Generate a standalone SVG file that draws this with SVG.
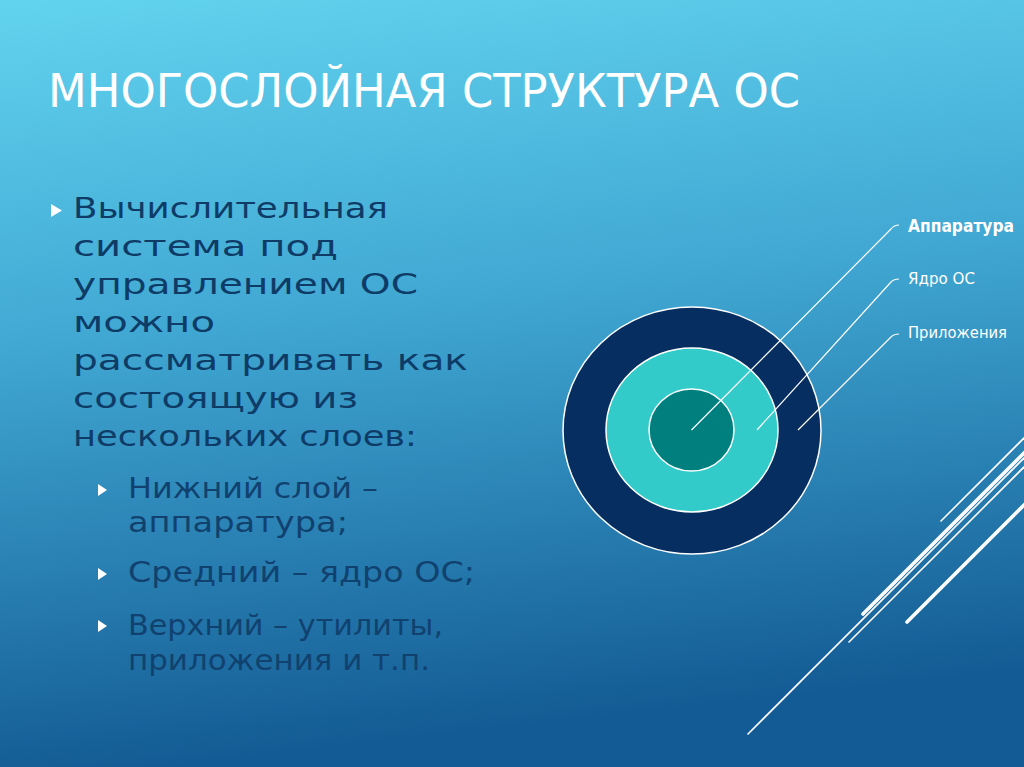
<svg xmlns="http://www.w3.org/2000/svg" width="1024" height="767" viewBox="0 0 1024 767">
  <defs>
    <linearGradient id="bg" x1="0" y1="0" x2="0.15" y2="1">
      <stop offset="0" stop-color="#62D3EF"/>
      <stop offset="0.45" stop-color="#40A7D2"/>
      <stop offset="1" stop-color="#135B94"/>
    </linearGradient>
  </defs>
  <style>
    .title { font-family: "DejaVu Sans", "Liberation Sans", sans-serif; font-size: 46px; fill: #FFFFFF; }
    .body { font-family: "DejaVu Sans", "Liberation Sans", sans-serif; font-size: 29px; fill: #0E3C67; }
    .sub { font-family: "DejaVu Sans", "Liberation Sans", sans-serif; font-size: 29px; fill: #11426F; }
    .lbl { font-family: "DejaVu Sans", "Liberation Sans", sans-serif; font-size: 15px; fill: #FFFFFF; }
    .lblb { font-family: "DejaVu Sans", "Liberation Sans", sans-serif; font-size: 17px; font-weight: bold; fill: #FFFFFF; }
    .bul { fill: #FFFFFF; }
    .ring { stroke: #FFFFFF; stroke-width: 1.5; }
    .lead { fill: none; stroke: #FFFFFF; stroke-width: 1.2; }
    .thin { stroke: #FFFFFF; stroke-width: 1.6; stroke-linecap: round; }
    .thick { stroke: #FFFFFF; stroke-width: 3.6; stroke-linecap: round; }
  </style>

  <rect x="0" y="0" width="1024" height="767" fill="url(#bg)"/>

  <g id="decor">
    <line class="thin" x1="941" y1="521" x2="1030" y2="432"/>
    <line class="thick" x1="863" y1="614" x2="1030" y2="447"/>
    <line class="thin" x1="748" y1="734" x2="1030" y2="452"/>
    <line class="thin" x1="849" y1="642" x2="1030" y2="461"/>
    <line class="thick" x1="907" y1="622" x2="1030" y2="499"/>
  </g>

  <g id="title">
    <text class="title" x="48" y="107" textLength="752" lengthAdjust="spacingAndGlyphs">МНОГОСЛОЙНАЯ СТРУКТУРА ОС</text>
  </g>

  <g id="bullets">
    <polygon class="bul" points="51,204 62,210.5 51,217"/>
    <text class="body" x="73" y="218" textLength="315" lengthAdjust="spacingAndGlyphs">Вычислительная</text>
    <text class="body" x="73" y="256" textLength="265" lengthAdjust="spacingAndGlyphs">система под</text>
    <text class="body" x="73" y="294" textLength="345" lengthAdjust="spacingAndGlyphs">управлением ОС</text>
    <text class="body" x="73" y="332" textLength="142" lengthAdjust="spacingAndGlyphs">можно</text>
    <text class="body" x="73" y="370" textLength="395" lengthAdjust="spacingAndGlyphs">рассматривать как</text>
    <text class="body" x="73" y="408" textLength="285" lengthAdjust="spacingAndGlyphs">состоящую из</text>
    <text class="body" x="73" y="446" textLength="344" lengthAdjust="spacingAndGlyphs">нескольких слоев:</text>

    <polygon class="bul" points="98,484 107,490 98,496"/>
    <text class="sub" x="128" y="498" textLength="250" lengthAdjust="spacingAndGlyphs">Нижний слой –</text>
    <text class="sub" x="128" y="532" textLength="220" lengthAdjust="spacingAndGlyphs">аппаратура;</text>

    <polygon class="bul" points="98,568 107,574 98,580"/>
    <text class="sub" x="128" y="582" textLength="347" lengthAdjust="spacingAndGlyphs">Средний – ядро ОС;</text>

    <polygon class="bul" points="98,620 107,626 98,632"/>
    <text class="sub" x="128" y="635" textLength="315" lengthAdjust="spacingAndGlyphs">Верхний – утилиты,</text>
    <text class="sub" x="128" y="670" textLength="302" lengthAdjust="spacingAndGlyphs">приложения и т.п.</text>
  </g>

  <g id="layer-apps">
    <ellipse class="ring" cx="692" cy="430.5" rx="129" ry="123.5" fill="#062E60"/>
  </g>
  <g id="layer-kernel">
    <ellipse class="ring" cx="692" cy="430" rx="86" ry="82" fill="#32CBC9"/>
  </g>
  <g id="layer-hardware">
    <ellipse class="ring" cx="691.5" cy="430" rx="42.5" ry="41" fill="#007F7F"/>
  </g>

  <g id="connectors">
    <path class="lead" d="M691.5,430 L891,229 Q894,225 899,225"/>
    <path class="lead" d="M757,430 L891,282 Q894,279 899,279"/>
    <path class="lead" d="M798,430 L891,337 Q894,334 899,334"/>
  </g>

  <g id="label-hardware">
    <text class="lblb" x="908" y="232" textLength="106" lengthAdjust="spacingAndGlyphs">Аппаратура</text>
  </g>
  <g id="label-kernel">
    <text class="lbl" x="908" y="284" textLength="67" lengthAdjust="spacingAndGlyphs">Ядро ОС</text>
  </g>
  <g id="label-apps">
    <text class="lbl" x="908" y="338" textLength="99" lengthAdjust="spacingAndGlyphs">Приложения</text>
  </g>
</svg>
